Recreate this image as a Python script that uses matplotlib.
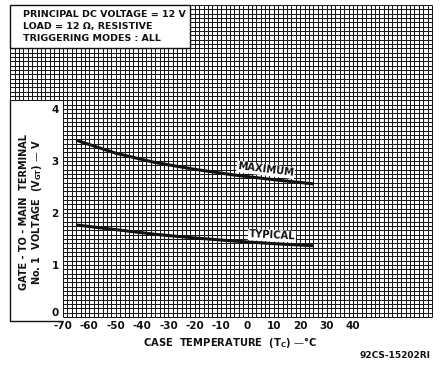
import numpy as np
import matplotlib
matplotlib.use("Agg")
import matplotlib.pyplot as plt
import matplotlib.transforms as mtransforms
from matplotlib.patches import Rectangle

# gate trigger voltage vs case temperature
temp_max = [-65, -50, -35, -20, -5, 10, 25]
vgt_max = [3.40, 3.15, 2.97, 2.84, 2.73, 2.64, 2.56]
temp_typ = [-65, -50, -35, -20, -5, 10, 25]
vgt_typ = [1.77, 1.68, 1.59, 1.52, 1.46, 1.41, 1.37]

x_ticks = [-70, -60, -50, -40, -30, -20, -10, 0, 10, 20, 30, 40]
y_ticks = [0, 1, 2, 3, 4]

conditions = ["PRINCIPAL DC VOLTAGE = 12 V",
              "LOAD = 12 \u03a9, RESISTIVE",
              "TRIGGERING MODES : ALL"]

FONT = "DejaVu Sans"
INK = "#111111"

fig = plt.figure(figsize=(4.41, 3.66), dpi=100)
ax = fig.add_axes([63 / 441, 1 - 317 / 366, 369 / 441, 312 / 366])
ax.set_xlim(-70, 70)
ax.set_ylim(0, 6)
for s in ax.spines.values():
    s.set_visible(False)

# graph paper
cx, cy = 10 / 6, 1 / 12
y_cut = 50 * cy
glw, gcol = 0.75, "#1a1a1a"
xs = -70 + cx * np.arange(85)
xs_ext = -90 + cx * np.arange(12)
ax.vlines(xs, 0, 6, lw=glw, color=gcol, clip_on=False, zorder=1)
ax.vlines(xs_ext, y_cut, 6, lw=glw, color=gcol, clip_on=False, zorder=1)
ys = cy * np.arange(73)
ax.hlines(ys[ys < y_cut - 1e-6], -70, 70, lw=glw, color=gcol, clip_on=False, zorder=1)
ax.hlines(ys[ys >= y_cut - 1e-6], -90, 70, lw=glw, color=gcol, clip_on=False, zorder=1)

# outer frame on the left
ax.plot([-90, -90, -70], [y_cut, -0.08, -0.08], color=INK, lw=1.0,
        clip_on=False, zorder=2, solid_capstyle="butt")

# conditions box
ax.add_patch(Rectangle((-90, 6 - 10 * cy), 29 * cx + 20, 10 * cy, fc="white",
                       ec=INK, lw=1.0, clip_on=False, zorder=3))
for i, line in enumerate(conditions):
    ax.text(-85.3, 5.81 - i * 0.225, line, fontsize=6.8, fontweight="bold",
            family=FONT, color=INK, va="center", ha="left", zorder=4)

# curves
ax.plot(temp_max, vgt_max, color=INK, lw=2.2, zorder=5, solid_capstyle="butt")
ax.plot(temp_typ, vgt_typ, color=INK, lw=2.2, zorder=5, solid_capstyle="butt")
lbl = dict(fontsize=7.2, fontweight="bold", family=FONT, color=INK, ha="center",
           va="center", zorder=6,
           bbox=dict(boxstyle="square,pad=0.08", fc="white", ec="none"))
ax.text(6.9, 2.83, "MAXIMUM", rotation=-7, **lbl)
ax.text(9.3, 1.565, "TYPICAL", rotation=-3, **lbl)

# ticks
ax.set_xticks(x_ticks)
ax.set_xticklabels([str(v) for v in x_ticks])
ax.set_yticks(y_ticks)
ax.set_yticklabels([str(v) for v in y_ticks])
ax.tick_params(length=0, labelsize=7.5, colors=INK)
ax.tick_params(axis="x", pad=3)
ax.tick_params(axis="y", pad=3)
for t in ax.get_xticklabels() + ax.get_yticklabels():
    t.set_fontweight("bold")
    t.set_family(FONT)
# lift the zero label clear of the temperature labels
zero = ax.get_yticklabels()[0]
zero.set_transform(zero.get_transform() +
                   mtransforms.ScaledTranslation(0, 5 / 100, fig.dpi_scale_trans))

fig.text(230 / 441, 1 - 342 / 366, "CASE  TEMPERATURE  (T$_\\mathregular{C}$) \u2014\u00b0C",
         fontsize=7.2, fontweight="bold", family=FONT, color=INK, ha="center", va="center")
fig.text(32 / 441, 1 - 212 / 366,
         "GATE - TO - MAIN  TERMINAL\nNo. 1  VOLTAGE  (V$_\\mathregular{GT}$) \u2014 V",
         fontsize=7.0, fontweight="bold", family=FONT, color=INK, ha="center",
         va="center", rotation=90, linespacing=1.1, multialignment="center")
fig.text(430 / 441, 1 - 355 / 366, "92CS-15202RI", fontsize=6.5, fontweight="bold",
         family=FONT, color=INK, ha="right", va="center")

fig.savefig("out.png", dpi=100, facecolor="white")
